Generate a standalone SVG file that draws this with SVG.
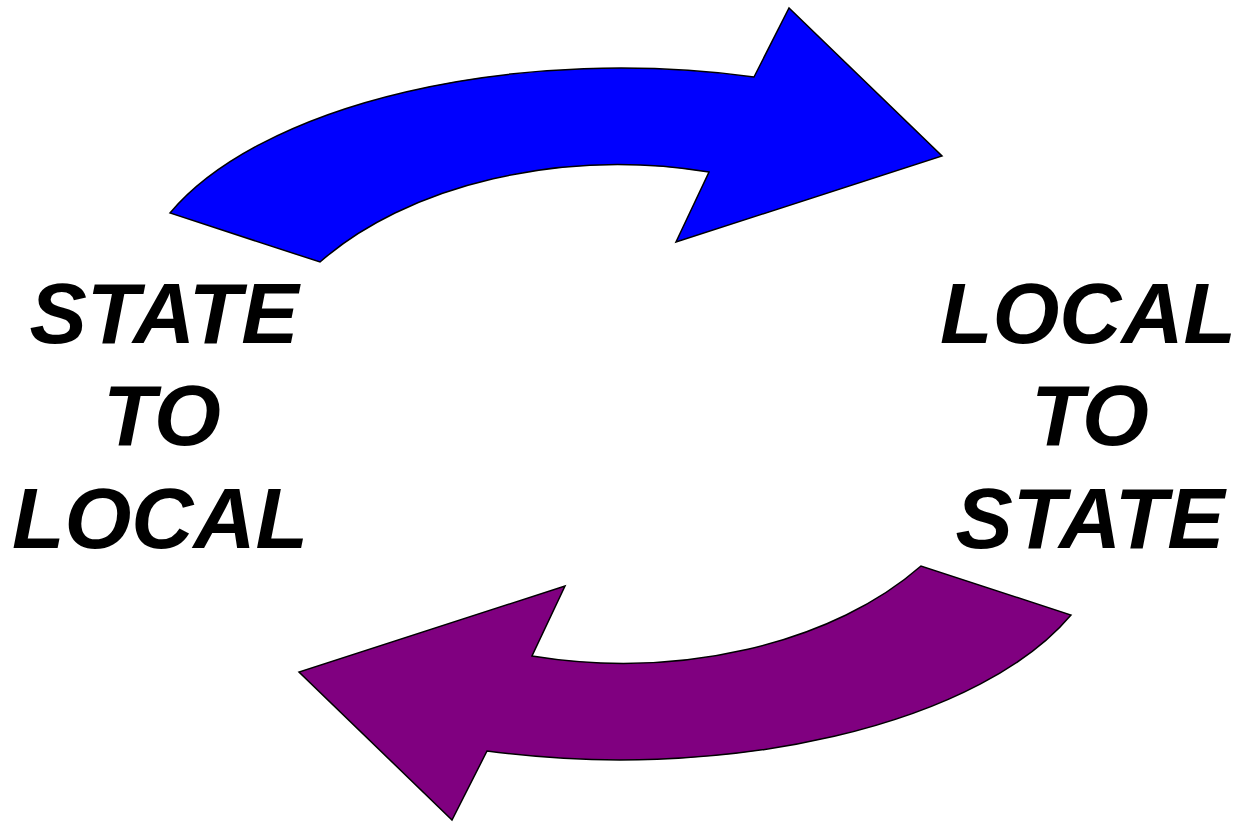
<svg xmlns="http://www.w3.org/2000/svg" width="1239" height="822" viewBox="0 0 1239 822">
<style>
.arrow{stroke:#000;stroke-width:1.5;stroke-linejoin:miter}
.lbl{font-family:"Liberation Sans",Arial,sans-serif;font-weight:bold;font-style:italic;font-size:86px;fill:#000;text-anchor:middle}
</style>
<defs>
<path id="curvedArrow" d="M170,213 A485,230 0 0 1 754,77 L789,8 L942,156 L676,242 L709,172 A370,238 0 0 0 320,262 Z"/>
</defs>
<g id="connectors">
<use id="arrow-top" href="#curvedArrow" class="arrow" fill="#0000FF"/>
<use id="arrow-bottom" href="#curvedArrow" class="arrow" fill="#800080" transform="rotate(180 620.5 414)"/>
</g>
<g id="node-state-to-local">
<text class="lbl" x="164" y="343">STATE</text>
<text class="lbl" x="162" y="445">TO</text>
<text class="lbl" x="160" y="548">LOCAL</text>
</g>
<g id="node-local-to-state">
<text class="lbl" x="1088" y="343">LOCAL</text>
<text class="lbl" x="1090" y="445">TO</text>
<text class="lbl" x="1090" y="548">STATE</text>
</g>
</svg>
